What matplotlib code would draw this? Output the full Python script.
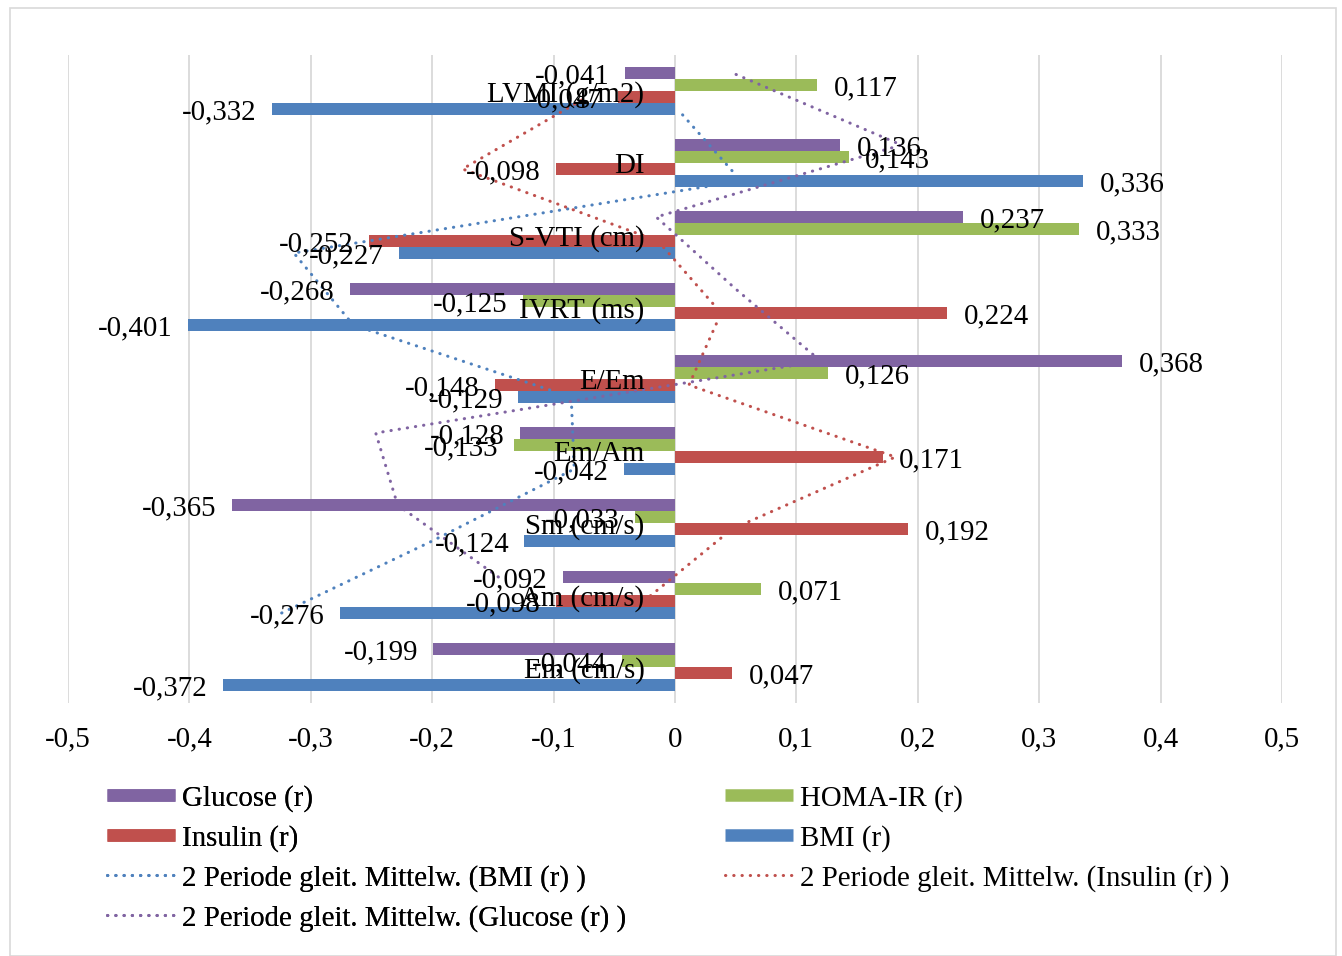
import numpy as np
import matplotlib
matplotlib.use("Agg")
from matplotlib import pyplot as plt
from matplotlib.lines import Line2D
from matplotlib.patches import Rectangle

plt.rcParams['font.family'] = ['Liberation Serif', 'DejaVu Serif']

# categories from top to bottom, as in the picture
categories = ['LVMI (g/m2)', 'DI', 'S-VTI (cm)', 'IVRT (ms)', 'E/Em',
              'Em/Am', 'Sm (cm/s)', 'Am (cm/s)', 'Em (cm/s)']
glucose = [-0.041, 0.136, 0.237, -0.268, 0.368, -0.128, -0.365, -0.092, -0.199]
homa_ir = [0.117, 0.143, 0.333, -0.125, 0.126, -0.133, -0.033, 0.071, -0.044]
insulin = [-0.047, -0.098, -0.252, 0.224, -0.148, 0.171, 0.192, -0.098, 0.047]
bmi = [-0.332, 0.336, -0.227, -0.401, -0.129, -0.042, -0.124, -0.276, -0.372]
x_ticks = [-0.5, -0.4, -0.3, -0.2, -0.1, 0, 0.1, 0.2, 0.3, 0.4, 0.5]

c_purple = '#8064A2'
c_green = '#9BBB59'
c_red = '#C0504D'
c_blue = '#4F81BD'

FS = 20.8
h = 1 / 6.0
DOT = (0, (0.1, 2.6))
DY = -2.5  # text sits a bit lower than centre

fig = plt.figure(figsize=(13.42, 9.56), dpi=100)
ax = fig.add_axes([68 / 1342, 1 - 703 / 956, (1282 - 68) / 1342, 648 / 956])

n = len(categories)
ypos = np.arange(n)[::-1]  # top category gets the highest y

series = [(glucose, c_purple, 1.5 * h), (homa_ir, c_green, 0.5 * h),
          (insulin, c_red, -0.5 * h), (bmi, c_blue, -1.5 * h)]

for vals, col, off in series:
    ax.barh(ypos + off, vals, height=h, color=col, zorder=2)
    for y, v in zip(ypos + off, vals):
        lab = ('%.3f' % v).replace('.', ',')
        if v >= 0:
            ax.annotate(lab, (v, y), xytext=(12, DY), textcoords='offset points',
                        ha='left', va='center', fontsize=FS, zorder=5)
        else:
            ax.annotate(lab, (v, y), xytext=(-11, DY), textcoords='offset points',
                        ha='right', va='center', fontsize=FS, zorder=5)

# 2 period moving averages (computed bottom-up like Excel)
for vals, col, off in [(bmi, c_blue, -1.5 * h), (insulin, c_red, -0.5 * h),
                       (glucose, c_purple, 1.5 * h)]:
    v = np.array(vals)[::-1]
    ma = (v[:-1] + v[1:]) / 2
    yy = np.arange(1, n) + off
    ax.plot(ma, yy, color=col, lw=2.2, linestyle=DOT,
            dash_capstyle='round', zorder=4)

# category labels next to the zero axis
for y, c in zip(ypos, categories):
    ax.annotate(c, (0, y), xytext=(-22, DY), textcoords='offset points',
                ha='right', va='center', fontsize=FS, zorder=6)

ax.set_xlim(-0.5, 0.5)
ax.set_ylim(-0.5, n - 0.5)
ax.set_xticks(x_ticks)
ax.set_xticklabels([('%g' % t).replace('.', ',') for t in x_ticks], fontsize=FS)
ax.set_yticks([])
ax.tick_params(axis='x', length=0, pad=17)
ax.grid(axis='x', color='#D9D9D9', lw=1.3, zorder=0)
ax.set_axisbelow(True)
for s in ax.spines.values():
    s.set_visible(False)

def dotted(col):
    return Line2D([], [], color=col, lw=2.2, linestyle=DOT, dash_capstyle='round')

def block(col):
    return Line2D([], [], color=col, lw=9, solid_capstyle='butt')

left_h = [block(c_purple), block(c_red), dotted(c_blue), dotted(c_purple)]
left_l = ['Glucose (r)', 'Insulin (r)', '2 Periode gleit. Mittelw. (BMI (r) )',
          '2 Periode gleit. Mittelw. (Glucose (r) )']
right_h = [block(c_green), block(c_blue), dotted(c_red)]
right_l = ['HOMA-IR (r)', 'BMI (r)', '2 Periode gleit. Mittelw. (Insulin (r) )']

kw = dict(fontsize=FS, frameon=False, loc='upper left', borderpad=0,
          borderaxespad=0, handlelength=2.35, handletextpad=0.25, labelspacing=0.45)
leg1 = fig.legend(left_h, left_l, bbox_to_anchor=(107 / 1342, 1 - 785 / 956), **kw)
fig.add_artist(leg1)
fig.legend(right_h, right_l, bbox_to_anchor=(725 / 1342, 1 - 785 / 956), **kw)

fig.patches.append(Rectangle((10 / 1342, 0), 1326 / 1342, 1 - 8 / 956,
                             transform=fig.transFigure, fill=False,
                             edgecolor='#D9D9D9', lw=1.2))

fig.savefig('out.png', dpi=100)
